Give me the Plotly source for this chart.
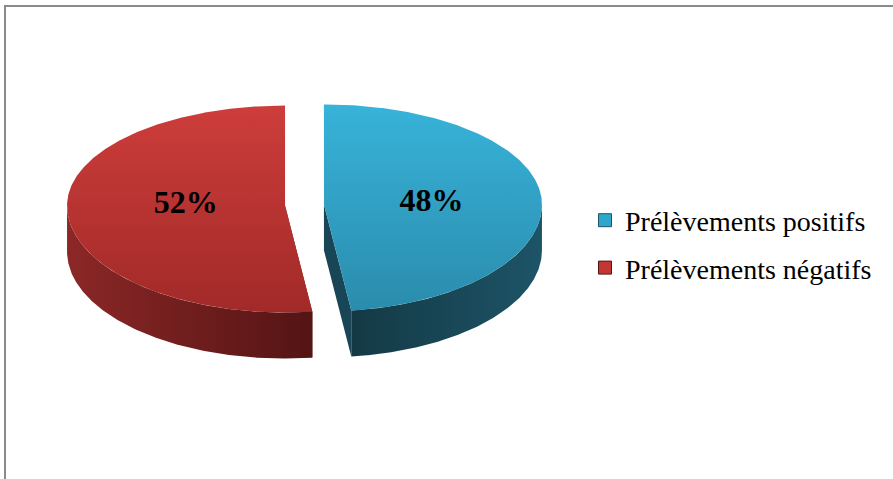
import numpy as np
import plotly.graph_objects as go

# Sample results
categories = ["Prélèvements positifs", "Prélèvements négatifs"]
values = [48, 52]

# Per-slice colours: top face gradient (top -> bottom), outer wall gradient (left -> right),
# cut face, legend key
top_colors = [["#38B3D9", "#2A8CAD"], ["#CD3D3B", "#A12A28"]]
side_colors = [["#143945", "#1D5467"], ["#8C2727", "#541414"]]
cut_colors = ["#184656", "#6E1E1E"]
legend_colors = ["#2FA6CC", "#C43634"]

W, H = 893, 479
CX, CY = 304.5, 205      # pie centre (pixel space)
A = 218                  # horizontal semi-axis
B_BACK, B_FRONT = 100, 107  # vertical semi-axes for back and front halves
DEPTH = 46               # wall thickness
EXPLODE = 19.5           # slice offset from centre


def rim(cx, cy, t, dz=0.0):
    t = np.asarray(t, dtype=float)
    b = np.where(np.sin(t) >= 0, B_BACK, B_FRONT)
    return cx + A * np.cos(t), cy - b * np.sin(t) + dz


total = float(sum(values))
slices = []
start = np.pi / 2
for v in values:
    sweep = 2 * np.pi * v / total
    t0, t1 = start, start - sweep
    mid = (t0 + t1) / 2
    cx = CX + EXPLODE * np.cos(mid)
    cy = CY - EXPLODE * (B_BACK / A) * np.sin(mid)
    slices.append((t0, t1, mid, cx, cy))
    start = t1

fig = go.Figure()

# Cut faces along each slice's radial edges
for i, (t0, t1, mid, cx, cy) in enumerate(slices):
    for th in (t0, t1):
        rx, ry = rim(cx, cy, th)
        fig.add_trace(go.Scatter(
            x=[cx, float(rx), float(rx), cx, cx],
            y=[cy, float(ry), float(ry) + DEPTH, cy + DEPTH, cy],
            mode="lines", fill="toself", line=dict(width=0),
            fillcolor=cut_colors[i], hoverinfo="skip", showlegend=False))

# Outer curved walls (front half only)
for i, (t0, t1, mid, cx, cy) in enumerate(slices):
    ts = np.linspace(t1, t0, 500)
    front = np.sin(ts) <= 0
    runs, cur = [], []
    for t, f in zip(ts, front):
        if f:
            cur.append(t)
        elif cur:
            runs.append(cur)
            cur = []
    if cur:
        runs.append(cur)
    for run in runs:
        run = np.array(run)
        tx, ty = rim(cx, cy, run)
        bx, by = rim(cx, cy, run[::-1], DEPTH)
        xs = np.concatenate([tx, bx, tx[:1]])
        ys = np.concatenate([ty, by, ty[:1]])
        fig.add_trace(go.Scatter(
            x=xs, y=ys, mode="lines", fill="toself", line=dict(width=0),
            fillgradient=dict(type="horizontal",
                              colorscale=[[0, side_colors[i][0]], [1, side_colors[i][1]]]),
            hoverinfo="skip", showlegend=False))

# Top faces (y axis is reversed, so the colorscale runs bottom -> top on screen)
for i, (t0, t1, mid, cx, cy) in enumerate(slices):
    ts = np.linspace(t0, t1, 400)
    tx, ty = rim(cx, cy, ts)
    xs = np.concatenate([[cx], tx, [cx]])
    ys = np.concatenate([[cy], ty, [cy]])
    fig.add_trace(go.Scatter(
        x=xs, y=ys, mode="lines", fill="toself", line=dict(width=0),
        fillgradient=dict(type="vertical",
                          colorscale=[[0, top_colors[i][1]], [1, top_colors[i][0]]]),
        hoverinfo="skip", showlegend=False))

# Percentage labels placed along each slice's bisector, at the slice's centre height
lx, ly, lt = [], [], []
for v, (t0, t1, mid, cx, cy) in zip(values, slices):
    half = (t0 - t1) / 2
    r = 1.12 * 2 * np.sin(half) / (3 * half)
    lx.append(cx + r * A * np.cos(mid))
    ly.append(cy - 1)
    lt.append(f"<b>{round(v / total * 100)}%</b>")
fig.add_trace(go.Scatter(
    x=lx, y=ly, mode="text", text=lt,
    textfont=dict(family="Liberation Serif", size=32, color="#000000"),
    hoverinfo="skip", showlegend=False))

# Legend entries
for i, cat in enumerate(categories):
    fig.add_trace(go.Scatter(
        x=[None], y=[None], mode="markers", name=cat, legendgroup=cat,
        marker=dict(symbol="square", size=13, color=legend_colors[i],
                    line=dict(color=side_colors[i][1], width=1))))

fig.update_layout(
    width=W, height=H, autosize=False,
    margin=dict(l=0, r=0, t=0, b=0),
    paper_bgcolor="white", plot_bgcolor="white",
    xaxis=dict(range=[0, W], visible=False, fixedrange=True),
    yaxis=dict(range=[H, 0], visible=False, fixedrange=True),
    showlegend=True,
    legend=dict(x=585 / W, y=1 - 244 / H, xanchor="left", yanchor="middle",
                font=dict(family="Liberation Serif", size=28, color="#000000"),
                bgcolor="rgba(0,0,0,0)", tracegroupgap=8,
                itemsizing="trace"),
    shapes=[dict(type="rect", xref="x", yref="y", x0=5, y0=6, x1=W + 10, y1=H + 10,
                 line=dict(color="#8A8A8A", width=2), fillcolor="rgba(0,0,0,0)",
                 layer="below")],
)

fig.write_html("out.html")
